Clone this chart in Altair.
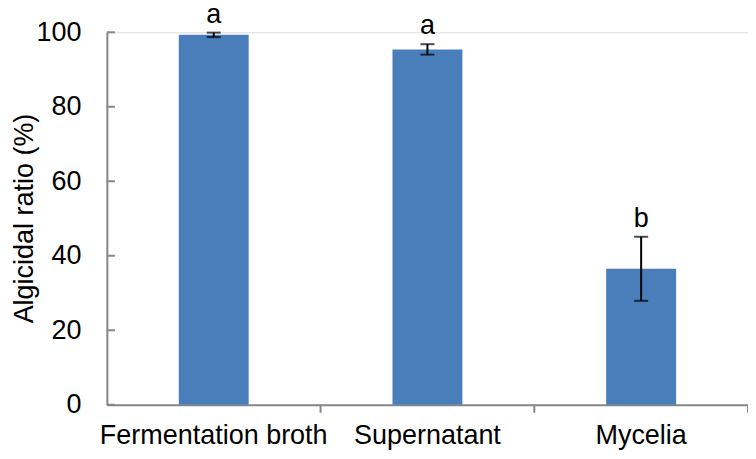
import altair as alt
import pandas as pd

categories = ["Fermentation broth", "Supernatant", "Mycelia"]
means = [99.3, 95.4, 36.5]
errors = [0.6, 1.4, 8.6]
letters = ["a", "a", "b"]
y_ticks = [0, 20, 40, 60, 80, 100]

df = pd.DataFrame({
    "cat": categories,
    "mean": means,
    "err": errors,
    "letter": letters,
})
df["lo"] = df["mean"] - df["err"]
df["hi"] = df["mean"] + df["err"]
tick_df = pd.DataFrame({"v": y_ticks})

FONT = "Liberation Sans"
GRAY = "#868686"
BLUE = "#4a7ebb"
FS = 27

xenc = alt.X(
    "cat:N",
    sort=categories,
    scale=alt.Scale(paddingInner=0, paddingOuter=0),
    axis=alt.Axis(
        title=None, labelAngle=0, ticks=False, tickSize=0, labelPadding=18,
        labelFont=FONT, labelFontSize=FS, labelColor="black", labelLimit=0,
        domainColor=GRAY, domainWidth=2, grid=False,
    ),
)
yscale = alt.Scale(domain=[0, 100], nice=False, zero=True)

base = alt.Chart(df).encode(x=xenc)

bars = base.mark_bar(width=70, color=BLUE).encode(
    y=alt.Y(
        "mean:Q",
        scale=yscale,
        axis=alt.Axis(
            values=y_ticks, ticks=False, tickSize=0, labelPadding=26,
            labelFont=FONT, labelFontSize=FS, labelColor="black",
            domainColor=GRAY, domainWidth=2, grid=False,
            title="Algicidal ratio (%)", titleFont=FONT, titleFontSize=FS,
            titleFontWeight="normal", titleColor="black",
            titleX=-82, titleY=186, titleAngle=270,
            titleAlign="center", titleBaseline="middle",
        ),
    )
)

err_rule = base.mark_rule(color="black", strokeWidth=2).encode(
    y=alt.Y("lo:Q", scale=yscale), y2="hi:Q"
)
cap_lo = base.mark_tick(color="black", size=14, thickness=2).encode(
    y=alt.Y("lo:Q", scale=yscale)
)
cap_hi = base.mark_tick(color="black", size=14, thickness=2).encode(
    y=alt.Y("hi:Q", scale=yscale)
)
labels = base.mark_text(
    dy=-10, baseline="alphabetic", font=FONT, fontSize=FS, color="black"
).encode(y=alt.Y("hi:Q", scale=yscale), text="letter:N")

y_inner_ticks = alt.Chart(tick_df).mark_rule(color=GRAY, strokeWidth=2).encode(
    y=alt.Y("v:Q", scale=yscale), x=alt.value(0), x2=alt.value(8)
)

x_ticks = alt.Chart(df).mark_rule(color=GRAY, strokeWidth=2).encode(
    x=alt.X("cat:N", sort=categories, bandPosition=1),
    y=alt.value(373), y2=alt.value(381),
)

chart = alt.layer(
    bars, err_rule, cap_lo, cap_hi, labels, y_inner_ticks, x_ticks
).properties(
    width=642, height=373,
    autosize=alt.AutoSizeParams(type="none"),
    padding={"left": 99, "top": 24, "right": 0, "bottom": 46},
).configure_view(stroke=None).configure(background="white")

chart.save("out.html", embed_options={"renderer": "svg", "actions": False})
